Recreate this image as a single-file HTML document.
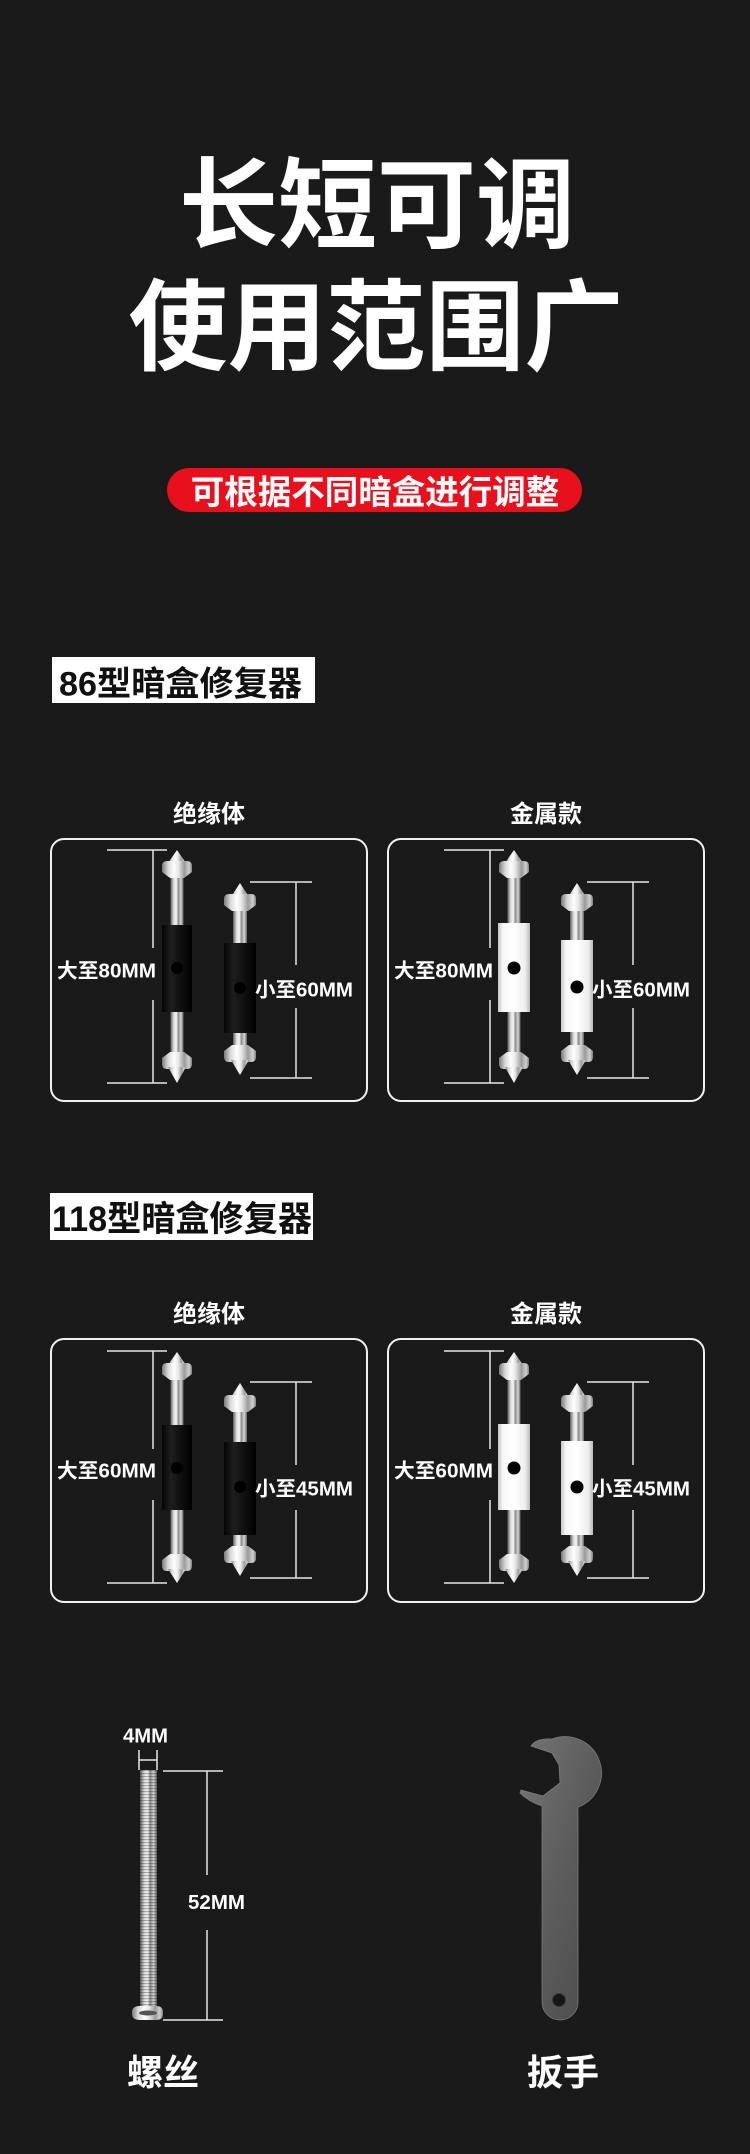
<!DOCTYPE html>
<html><head><meta charset="utf-8"><style>
html,body{margin:0;padding:0;background:#1a1a1a;}
svg{display:block;}
text{font-family:"Liberation Sans","Noto Sans CJK SC",sans-serif;font-weight:700;}
</style></head><body>
<svg width="750" height="2154" viewBox="0 0 750 2154" xmlns="http://www.w3.org/2000/svg">
<defs>
<linearGradient id="metal" x1="0" y1="0" x2="1" y2="0">
<stop offset="0" stop-color="#7a7a7a"/><stop offset="0.2" stop-color="#d8d8d8"/><stop offset="0.4" stop-color="#fdfdfd"/><stop offset="0.55" stop-color="#e6e6e6"/><stop offset="0.75" stop-color="#9a9a9a"/><stop offset="0.9" stop-color="#cfcfcf"/><stop offset="1" stop-color="#808080"/>
</linearGradient>
<linearGradient id="rod" x1="0" y1="0" x2="1" y2="0">
<stop offset="0" stop-color="#5a5a5a"/><stop offset="0.25" stop-color="#dcdcdc"/><stop offset="0.45" stop-color="#f5f5f5"/><stop offset="0.6" stop-color="#8c8c8c"/><stop offset="0.8" stop-color="#d4d4d4"/><stop offset="1" stop-color="#606060"/>
</linearGradient>
<linearGradient id="blackS" x1="0" y1="0" x2="1" y2="0">
<stop offset="0" stop-color="#050505"/><stop offset="0.3" stop-color="#1e1e1e"/><stop offset="0.6" stop-color="#111"/><stop offset="1" stop-color="#000"/>
</linearGradient>
<linearGradient id="whiteS" x1="0" y1="0" x2="1" y2="0">
<stop offset="0" stop-color="#c4c4c4"/><stop offset="0.15" stop-color="#f7f7f7"/><stop offset="0.5" stop-color="#ffffff"/><stop offset="0.85" stop-color="#eeeeee"/><stop offset="1" stop-color="#b8b8b8"/>
</linearGradient>
<linearGradient id="wr" x1="0" y1="0" x2="1" y2="1">
<stop offset="0" stop-color="#767676"/><stop offset="0.5" stop-color="#5c5c5c"/><stop offset="1" stop-color="#4a4a4a"/>
</linearGradient>
<pattern id="thread" x="0" y="0" width="30" height="3" patternUnits="userSpaceOnUse">
<rect x="0" y="0" width="30" height="1.2" fill="rgba(0,0,0,0.28)"/>
</pattern>

<g id="b86">
<rect x="170.5" y="877" width="13" height="176" fill="url(#rod)"/>
<polygon points="177,850 168,863 186,863" fill="url(#metal)"/>
<path d="M162,866 Q162,861 167,861 H187 Q192,861 192,866 V872 L184,878 H170 L162,872 Z" fill="url(#metal)"/>
<path d="M170,1052 H184 L192,1058 V1064 Q192,1069 187,1069 H167 Q162,1069 162,1064 V1058 Z" fill="url(#metal)"/>
<polygon points="168,1067 186,1067 177,1083" fill="url(#metal)"/>
<rect x="233" y="911" width="14" height="134" fill="url(#rod)"/>
<polygon points="240,883 231,897 249,897" fill="url(#metal)"/>
<path d="M224,899 Q224,894 229,894 H251 Q256,894 256,899 V905 L248,911 H232 L224,905 Z" fill="url(#metal)"/>
<path d="M232,1045 H248 L256,1051 V1057 Q256,1062 251,1062 H229 Q224,1062 224,1057 V1051 Z" fill="url(#metal)"/>
<polygon points="231,1060 249,1060 240,1075" fill="url(#metal)"/>
</g>
<g id="d86" stroke="#e6e6e6" stroke-width="1.5" fill="none">
<path d="M107,850 H167 M153,850 V948 M153,1000 V1083 M107,1083 H167"/>
<path d="M250,882 H312 M296,882 V965 M296,1008 V1078 M250,1078 H312"/>
</g>
<g id="b118">
<rect x="170.5" y="1378" width="13" height="177" fill="url(#rod)"/>
<polygon points="177,1352 168,1365 186,1365" fill="url(#metal)"/>
<path d="M162,1368 Q162,1363 167,1363 H187 Q192,1363 192,1368 V1374 L184,1380 H170 L162,1374 Z" fill="url(#metal)"/>
<path d="M170,1554 H184 L192,1560 V1566 Q192,1571 187,1571 H167 Q162,1571 162,1566 V1560 Z" fill="url(#metal)"/>
<polygon points="168,1569 186,1569 177,1583" fill="url(#metal)"/>
<rect x="233" y="1411" width="14" height="135" fill="url(#rod)"/>
<polygon points="240,1383 231,1397 249,1397" fill="url(#metal)"/>
<path d="M224,1400 Q224,1395 229,1395 H251 Q256,1395 256,1400 V1406 L248,1412 H232 L224,1406 Z" fill="url(#metal)"/>
<path d="M232,1546 H248 L256,1552 V1558 Q256,1563 251,1563 H229 Q224,1563 224,1558 V1552 Z" fill="url(#metal)"/>
<polygon points="231,1561 249,1561 240,1576" fill="url(#metal)"/>
</g>
<g id="d118" stroke="#e6e6e6" stroke-width="1.5" fill="none">
<path d="M107,1351 H167 M153,1351 V1449 M153,1500 V1583 M107,1583 H167"/>
<path d="M250,1382 H312 M296,1382 V1465 M296,1510 V1578 M250,1578 H312"/>
</g>
</defs>

<rect x="0" y="0" width="750" height="2154" fill="#1a1a1a"/>

<text x="377" y="240" font-size="99" fill="#ffffff" text-anchor="middle" font-weight="900">长短可调</text>
<text x="376" y="362" font-size="99" fill="#ffffff" text-anchor="middle" font-weight="900">使用范围广</text>

<rect x="167" y="468" width="415" height="44" rx="22" fill="#e8101c"/>
<text x="375" y="504" font-size="33.5" fill="#ffffff" text-anchor="middle">可根据不同暗盒进行调整</text>

<rect x="52" y="657" width="263" height="46" fill="#ffffff"/>
<text x="59" y="695.5" font-size="34" fill="#111" textLength="243" lengthAdjust="spacingAndGlyphs">86型暗盒修复器</text>

<text x="209" y="822" font-size="24" fill="#ffffff" text-anchor="middle">绝缘体</text>
<text x="546" y="822" font-size="24" fill="#ffffff" text-anchor="middle">金属款</text>
<rect x="51" y="839" width="316" height="262" rx="13" fill="none" stroke="#f0f0f0" stroke-width="2"/>
<rect x="388" y="839" width="316" height="262" rx="13" fill="none" stroke="#f0f0f0" stroke-width="2"/>

<use href="#d86"/>
<use href="#d86" x="337"/>
<use href="#b86"/>
<use href="#b86" x="337"/>
<rect x="162" y="925" width="30" height="87" fill="url(#blackS)"/>
<circle cx="177" cy="968" r="6" fill="#000"/>
<rect x="224" y="943" width="32" height="90" fill="url(#blackS)"/>
<circle cx="240" cy="988" r="6" fill="#000"/>
<rect x="498" y="923" width="32" height="89" fill="url(#whiteS)"/>
<circle cx="514" cy="968" r="6.5" fill="#000"/>
<rect x="561" y="940" width="32" height="92" fill="url(#whiteS)"/>
<circle cx="577" cy="987" r="6.5" fill="#000"/>

<text x="57" y="977.5" font-size="20" fill="#ffffff" textLength="99" lengthAdjust="spacingAndGlyphs">大至80MM</text>
<text x="255" y="996.5" font-size="20" fill="#ffffff" textLength="98" lengthAdjust="spacingAndGlyphs">小至60MM</text>
<text x="394" y="977.5" font-size="20" fill="#ffffff" textLength="99" lengthAdjust="spacingAndGlyphs">大至80MM</text>
<text x="592" y="996.5" font-size="20" fill="#ffffff" textLength="98" lengthAdjust="spacingAndGlyphs">小至60MM</text>

<rect x="50" y="1193" width="263" height="47" fill="#ffffff"/>
<text x="52" y="1231" font-size="35" fill="#111" textLength="260" lengthAdjust="spacingAndGlyphs">118型暗盒修复器</text>

<text x="209" y="1322" font-size="24" fill="#ffffff" text-anchor="middle">绝缘体</text>
<text x="546" y="1322" font-size="24" fill="#ffffff" text-anchor="middle">金属款</text>
<rect x="51" y="1339" width="316" height="263" rx="13" fill="none" stroke="#f0f0f0" stroke-width="2"/>
<rect x="388" y="1339" width="316" height="263" rx="13" fill="none" stroke="#f0f0f0" stroke-width="2"/>

<use href="#d118"/>
<use href="#d118" x="337"/>
<use href="#b118"/>
<use href="#b118" x="337"/>
<rect x="162" y="1425" width="30" height="85" fill="url(#blackS)"/>
<circle cx="177" cy="1468" r="6" fill="#000"/>
<rect x="224" y="1442" width="32" height="93" fill="url(#blackS)"/>
<circle cx="240" cy="1487" r="6" fill="#000"/>
<rect x="498" y="1424" width="32" height="86" fill="url(#whiteS)"/>
<circle cx="514" cy="1468" r="6.5" fill="#000"/>
<rect x="561" y="1441" width="32" height="94" fill="url(#whiteS)"/>
<circle cx="577" cy="1487" r="6.5" fill="#000"/>

<text x="57" y="1477.5" font-size="20" fill="#ffffff" textLength="99" lengthAdjust="spacingAndGlyphs">大至60MM</text>
<text x="255" y="1495.5" font-size="20" fill="#ffffff" textLength="98" lengthAdjust="spacingAndGlyphs">小至45MM</text>
<text x="394" y="1477.5" font-size="20" fill="#ffffff" textLength="99" lengthAdjust="spacingAndGlyphs">大至60MM</text>
<text x="592" y="1495.5" font-size="20" fill="#ffffff" textLength="98" lengthAdjust="spacingAndGlyphs">小至45MM</text>

<g stroke="#e6e6e6" stroke-width="1.5" fill="none">
<path d="M139,1750 V1770 M157,1750 V1770 M139,1760 H157"/>
<path d="M163,1771 H223 M207,1771 V1875 M207,1930 V2020 M163,2020 H223"/>
</g>
<rect x="140" y="1770" width="17" height="238" fill="url(#rod)"/>
<rect x="140" y="1770" width="17" height="238" fill="url(#thread)"/>
<path d="M132,2012 Q132,2006 140,2006 H156 Q163,2006 163,2012 V2014 Q163,2020 156,2020 H140 Q132,2020 132,2014 Z" fill="url(#metal)"/>
<ellipse cx="148" cy="2013" rx="9" ry="2.5" fill="#555"/>
<text x="123" y="1742.7" font-size="20" fill="#ffffff" textLength="45" lengthAdjust="spacingAndGlyphs">4MM</text>
<text x="188" y="1909" font-size="20" fill="#ffffff" textLength="57" lengthAdjust="spacingAndGlyphs">52MM</text>
<text x="163" y="2085" font-size="36" fill="#ffffff" text-anchor="middle">螺丝</text>

<path d="M531,1746 Q536,1738 552,1739 A36,36 0 0 1 578,1807.2 L578,2002 A18,18 0 0 1 542,2002 L542,1806 Q529,1802 520,1793 L521,1790 L543,1796 L560,1783 L559,1765 L552,1753 Z" fill="url(#wr)" stroke="#7a7a7a" stroke-width="0.8"/>
<circle cx="559" cy="2000" r="6.5" fill="#161616" stroke="#3a3a3a" stroke-width="1"/>
<text x="563" y="2085" font-size="36" fill="#ffffff" text-anchor="middle">扳手</text>
</svg>
</body></html>
